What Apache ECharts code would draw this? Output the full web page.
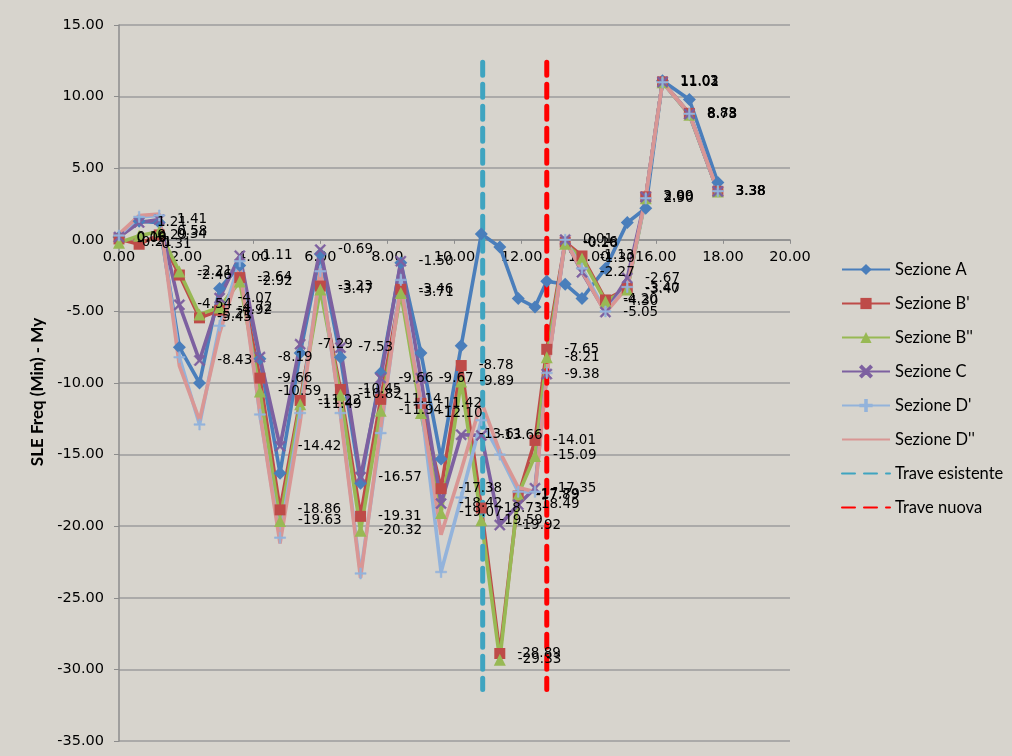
<!DOCTYPE html>
<html>
<head>
<meta charset="utf-8">
<script src="https://cdn.jsdelivr.net/npm/echarts@6/dist/echarts.min.js"></script>
<style>
html,body{margin:0;padding:0;background:#d7d4cd;}
#chart{width:1012px;height:756px;}
</style>
</head>
<body>
<div id="chart"></div>
<script>
const xPos = [0,0.6,1.2,1.8,2.4,3.0,3.6,4.2,4.8,5.4,6.0,6.6,7.2,7.8,8.4,9.0,9.6,10.2,10.8,11.35,11.9,12.4,12.75,13.3,13.8,14.5,15.15,15.7,16.2,17.0,17.85];
const sezA  = [0.2,1.3,1.2,-7.5,-10.0,-3.4,-1.8,-8.3,-16.3,-7.9,-1.0,-8.2,-17.0,-9.3,-1.6,-7.9,-15.3,-7.4,0.4,-0.5,-4.1,-4.7,-2.9,-3.1,-4.1,-2.0,1.2,2.2,11.1,9.8,4.0];
const sezB1 = [0.06,-0.31,0.34,-2.46,-5.45,-4.92,-2.64,-9.66,-18.86,-11.22,-3.23,-10.45,-19.31,-11.14,-3.46,-11.42,-17.38,-8.78,-18.73,-28.89,-17.89,-14.01,-7.65,-0.16,-1.13,-4.20,-3.40,3.00,11.03,8.83,3.38];
const sezB2 = [-0.21,0.29,0.58,-2.21,-5.21,-4.72,-2.92,-10.59,-19.63,-11.49,-3.47,-10.82,-20.32,-11.94,-3.71,-12.10,-19.07,-9.89,-19.59,-29.33,-17.79,-15.09,-8.21,-0.28,-1.30,-4.30,-3.47,2.90,11.01,8.73,3.38];
const sezC  = [0.19,1.21,1.41,-4.54,-8.43,-4.07,-1.11,-8.19,-14.42,-7.29,-0.69,-7.53,-16.57,-9.66,-1.50,-9.67,-18.42,-13.61,-13.66,-19.92,-18.49,-17.35,-9.38,0.01,-2.27,-5.05,-2.67,2.99,11.02,8.78,3.38];
const sezD1 = [0.3,1.6,1.7,-8.2,-12.9,-6.0,-1.5,-12.2,-20.8,-12.1,-2.2,-12.1,-23.3,-13.5,-2.8,-11.4,-23.2,-18.0,-12.6,-15.0,-17.6,-17.6,-9.3,0.0,-2.0,-5.0,-3.3,2.9,11.0,8.8,3.4];
const sezD2 = [0.4,1.7,1.8,-8.8,-12.6,-6.5,-2.0,-12.1,-21.2,-12.7,-2.0,-12.2,-23.6,-13.1,-3.2,-11.4,-20.6,-16.1,-11.3,-14.8,-17.3,-17.6,-9.5,0.0,-2.2,-5.1,-3.3,3.0,11.0,8.8,3.4];
const traveEsistenteX = 10.84;
const traveNuovaX = 12.75;
const traveY = [12.4, -31.4];
const yTicks = {min:-35, max:15, step:5};
const xTicks = {min:0, max:20, step:2};
const seriesNames = ['Sezione A',"Sezione B'","Sezione B''",'Sezione C',"Sezione D'","Sezione D''",'Trave esistente','Trave nuova'];

const pairs = ys => xPos.map((x,i)=>[x, ys[i]]);
const X_PATH = 'path://M0,1.2L1.2,0L5,3.8L8.8,0L10,1.2L6.2,5L10,8.8L8.8,10L5,6.2L1.2,10L0,8.8L3.8,5Z';
const PLUS_PATH = 'path://M4.3,0H5.7V4.3H10V5.7H5.7V10H4.3V5.7H0V4.3H4.3Z';

const labelCfg = {
  show:true, position:'right', distance:12, color:'#000',
  fontFamily:'DejaVu Sans', fontSize:13.5,
  formatter: p => p.value[1].toFixed(2)
};

function lineSeries(name, data, color, symbol, size, withLabel){
  return {
    name, type:'line', data: pairs(data),
    symbol, symbolSize:size, showSymbol: symbol!=='none',
    lineStyle:{color, width:3.6},
    itemStyle:{color, borderColor:color, borderWidth: symbol.startsWith('path')?0.6:0},
    label: withLabel ? labelCfg : {show:false},
    emphasis:{disabled:true}, animation:false
  };
}
function traveSeries(name, x, color){
  return {
    name, type:'line', data: traveY.map(y=>[x,y]), symbol:'none',
    lineStyle:{color, width:5, type:[13,9], cap:'round'},
    itemStyle:{color}, emphasis:{disabled:true}, animation:false, z:3
  };
}

const H = 756, gridTop = 25, gridBottom = 15;
const plotH = H - gridTop - gridBottom;
const zeroY = gridTop + plotH * (yTicks.max - 0) / (yTicks.max - yTicks.min);
const xOffset = -(gridTop + plotH - zeroY);

const chart = echarts.init(document.getElementById('chart'));
chart.setOption({
  backgroundColor:'#d7d4cd',
  animation:false,
  grid:{left:119, right:222, top:gridTop, bottom:gridBottom, containLabel:false},
  xAxis:{
    type:'value', min:xTicks.min, max:xTicks.max, interval:xTicks.step,
    offset:xOffset,
    axisLine:{onZero:false, lineStyle:{color:'#8c8c8c', width:1.5}},
    axisTick:{show:true, length:4, lineStyle:{color:'#8c8c8c'}},
    axisLabel:{formatter:v=>v.toFixed(2), color:'#000', fontFamily:'DejaVu Sans', fontSize:14.5, margin:10},
    splitLine:{show:false}
  },
  yAxis:{
    type:'value', min:yTicks.min, max:yTicks.max, interval:yTicks.step,
    name:'SLE Freq (Min) - My', nameLocation:'middle', nameGap:73, nameRotate:90,
    nameTextStyle:{fontFamily:'Lato', fontWeight:'bold', fontSize:17, color:'#000', padding:[0,18,0,0]},
    axisLine:{show:true, onZero:false, lineStyle:{color:'#8c8c8c', width:1.5}},
    axisTick:{show:true, length:5, lineStyle:{color:'#8c8c8c'}},
    axisLabel:{formatter:v=>v.toFixed(2), color:'#000', fontFamily:'DejaVu Sans', fontSize:14.5, margin:15},
    splitLine:{show:true, lineStyle:{color:'#9c9c9c', width:1.5}}
  },
  legend:{
    orient:'vertical', left:836, top:256, itemWidth:48, itemHeight:14, itemGap:17,
    textStyle:{fontFamily:'Lato', fontSize:16.5, color:'#000'},
    data: seriesNames.map((n,i)=> i>=5 ? {name:n, itemStyle:{opacity:0}} : {name:n})
  },
  series:[
    lineSeries(seriesNames[0], sezA, '#4a7ebb', 'diamond', 13, false),
    lineSeries(seriesNames[1], sezB1, '#be4b48', 'rect', 11, true),
    lineSeries(seriesNames[2], sezB2, '#98b954', 'triangle', 12, true),
    lineSeries(seriesNames[3], sezC, '#7d60a0', X_PATH, 11, true),
    lineSeries(seriesNames[4], sezD1, '#93b3db', PLUS_PATH, 11, false),
    lineSeries(seriesNames[5], sezD2, '#d99694', 'none', 0, false),
    traveSeries(seriesNames[6], traveEsistenteX, '#3fa4c0'),
    traveSeries(seriesNames[7], traveNuovaX, '#ff0000')
  ]
});
</script>
</body>
</html>
